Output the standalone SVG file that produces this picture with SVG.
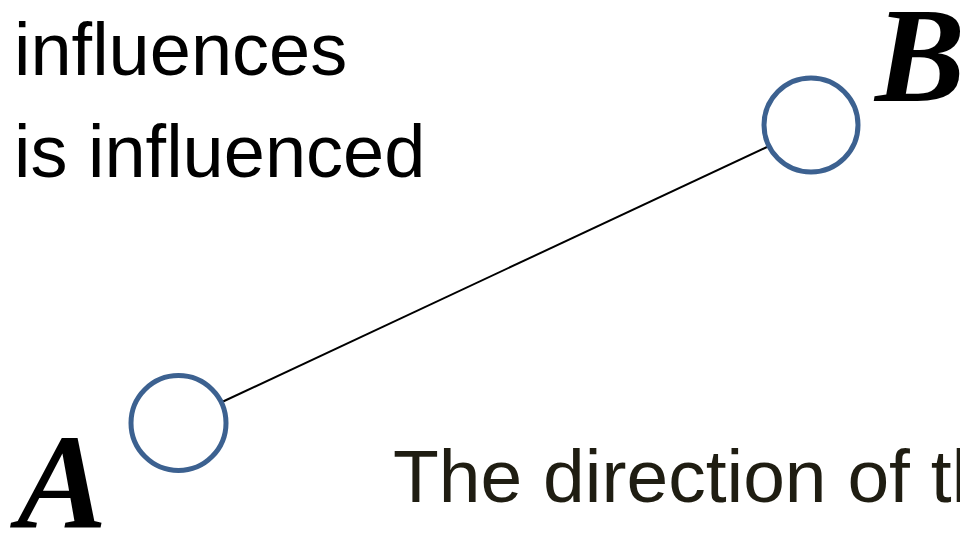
<svg xmlns="http://www.w3.org/2000/svg" width="960" height="536" viewBox="0 0 960 536">
<style>
.lbl{font-family:"Liberation Sans",Arial,sans-serif;font-size:74px;fill:#000}
.node{fill:#fff;stroke:#3c6190;stroke-width:5}
.name{font-family:"Liberation Serif","Times New Roman",serif;font-size:135px;font-weight:bold;font-style:italic;fill:#000}
.edge{stroke:#000;stroke-width:2;fill:none}
</style>
<rect width="960" height="536" fill="#fff"/>
<text class="lbl" x="14" y="75">influences</text>
<text class="lbl" x="14" y="177">is influenced</text>
<g id="connectors">
<line class="edge" x1="222" y1="402" x2="767" y2="147"/>
</g>
<g id="nodeA">
<circle class="node" cx="178.5" cy="423" r="47.5"/>
<text class="name" x="17" y="528">A</text>
</g>
<g id="nodeB">
<circle class="node" cx="811" cy="125" r="47"/>
<text class="name" x="875" y="101">B</text>
</g>
<text font-family="'Liberation Sans',Arial,sans-serif" font-size="75" fill="#1f1d12" x="393" y="502">The direction of th</text>
</svg>
